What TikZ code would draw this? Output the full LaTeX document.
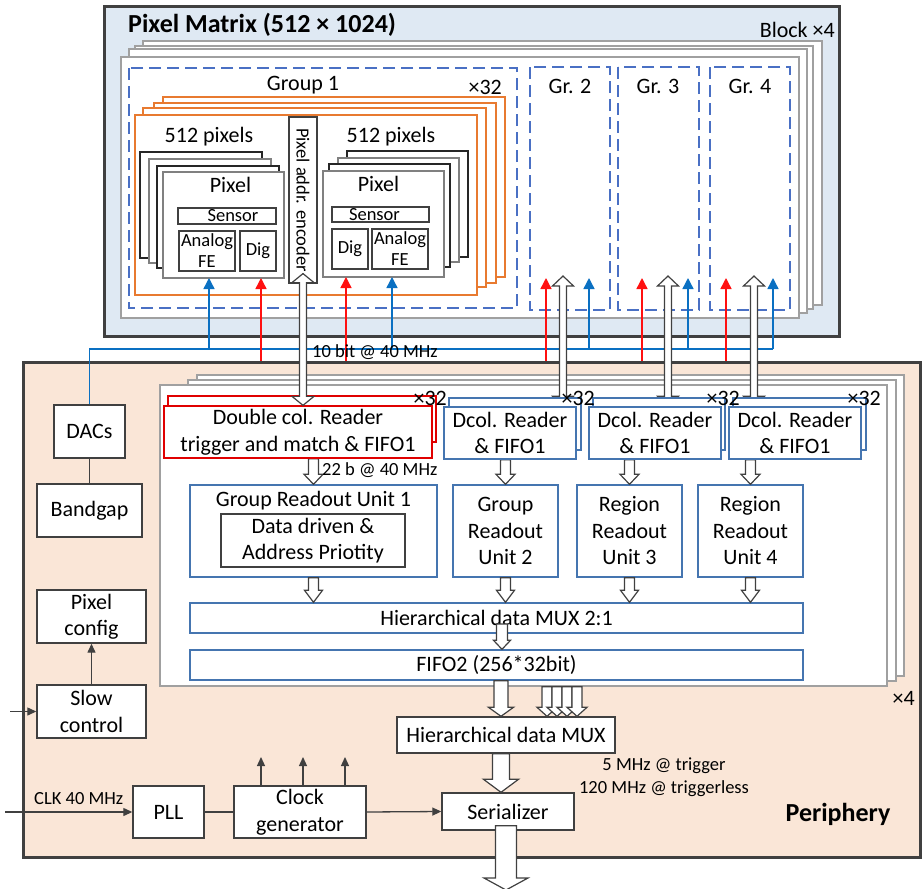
\documentclass[tikz,border=0pt]{standalone}
\usepackage{fontspec}
\setmainfont{Carlito}
\usetikzlibrary{arrows.meta,calc,fit}

\definecolor{matrixbg}{HTML}{DFE9F3}
\definecolor{periphbg}{HTML}{FAE6D7}
\definecolor{edge}{HTML}{404040}
\definecolor{stackgray}{HTML}{A0A0A0}
\definecolor{groupdash}{HTML}{4A70C4}
\definecolor{orangeline}{HTML}{E87A30}
\definecolor{unitblue}{HTML}{4575B0}
\definecolor{biasblue}{HTML}{0A70C2}
\definecolor{trigred}{HTML}{FF1010}
\definecolor{readred}{HTML}{E00000}

\newcommand\mainsize{\fontsize{22}{26.5}\selectfont}
\newcommand\smallsize{\fontsize{18.5}{21}\selectfont}
\newcommand\titlesize{\fontsize{26}{30}\selectfont\bfseries}

\pgfdeclarelayer{front}
\pgfsetlayers{main,front}

% a node given by its two corners: style, name, x1, y1, x2, y2, text
\newcommand\boxat[7]{%
  \pgfmathsetmacro\pbxX{(#3+#5)/2}\pgfmathsetmacro\pbxY{(#4+#6)/2}%
  \pgfmathsetmacro\pbxW{#5-#3}\pgfmathsetmacro\pbxH{#6-#4}%
  \node[#1, minimum width=\pbxW pt, minimum height=\pbxH pt] (#2) at (\pbxX,\pbxY) {#7};}

% wide hollow arrow along a vertical line: start, tip, shaft half-width, head half-width, head length
\newcommand\hollowto[5]{%
  \draw[hollow] let \p1=(#1), \p2=(#2), \n1={sign(\y2-\y1)} in
    ({\x2-#3pt},\y1) -- ({\x2-#3pt},{\y2-(\n1)*#5pt}) -- ({\x2-#4pt},{\y2-(\n1)*#5pt})
    -- (\x2,\y2)
    -- ({\x2+#4pt},{\y2-(\n1)*#5pt}) -- ({\x2+#3pt},{\y2-(\n1)*#5pt}) -- ({\x2+#3pt},\y1) -- cycle;}
% the same with a head at both ends
\newcommand\hollowboth[5]{%
  \draw[hollow] let \p1=(#1), \p2=(#2), \n1={sign(\y2-\y1)} in
    (\x2,\y1) -- ({\x2-#4pt},{\y1+(\n1)*#5pt}) -- ({\x2-#3pt},{\y1+(\n1)*#5pt})
    -- ({\x2-#3pt},{\y2-(\n1)*#5pt}) -- ({\x2-#4pt},{\y2-(\n1)*#5pt}) -- (\x2,\y2)
    -- ({\x2+#4pt},{\y2-(\n1)*#5pt}) -- ({\x2+#3pt},{\y2-(\n1)*#5pt})
    -- ({\x2+#3pt},{\y1+(\n1)*#5pt}) -- ({\x2+#4pt},{\y1+(\n1)*#5pt}) -- cycle;}

\begin{document}
\begin{tikzpicture}[x=1pt, y=-1pt,
  every node/.style={font=\mainsize, inner sep=0pt},
  outerframe/.style={inner sep=0pt, draw=edge, line width=3pt},
  box/.style={inner sep=0pt, draw=edge, line width=1.4pt, fill=white, align=center},
  unit/.style={box, draw=unitblue},
  unitback/.style={draw=unitblue, line width=1.4pt, fill=white},
  readbox/.style={box, draw=readred, line width=1.3pt},
  readback/.style={draw=readred, line width=1.3pt, fill=white},
  blocklayer/.style={draw=stackgray, line width=1.3pt, fill=white},
  orangelayer/.style={draw=orangeline, line width=1.4pt, fill=white},
  pixdark/.style={draw=black!85, line width=1.2pt, fill=white},
  pixgray/.style={draw=black!50, line width=1.2pt, fill=white},
  groupbox/.style={draw=groupdash, line width=1.5pt, dash pattern=on 12pt off 6pt},
  subpart/.style={box, line width=1.1pt, font=\smallsize},
  bias/.style={draw=biasblue, line width=1.4pt},
  trig/.style={draw=trigred, line width=1.4pt},
  tipc/.style={-{Triangle[width=11pt,length=11pt]}},
  wire/.style={draw=edge, line width=1.3pt},
  wiretip/.style={wire, -{Triangle[width=8pt,length=9pt]}},
  hollow/.style={draw=edge, line width=1.2pt, fill=white, line join=miter},
  txtsmall/.style={font=\smallsize},
  txttitle/.style={font=\titlesize},
]
\useasboundingbox (0,0) rectangle (922,889);

% ---------------- pixel matrix ----------------
\node[outerframe, fill=matrixbg, fit={(104,6) (839,336)}] (pm) {};
\node[txttitle, anchor=base west] at (128,32) {Pixel Matrix (512 × 1024)};
\node[anchor=base east] at (835,37) {Block ×4};
\draw[blocklayer] (143,41) rectangle (822,305);
\draw[blocklayer] (135,46) rectangle (813,309);
\draw[blocklayer] (129,49) rectangle (807,313);
\draw[blocklayer] (121,57) rectangle (799,318);

\draw[groupbox] (129,68) rectangle (517,308);
\draw[groupbox] (530,67) rectangle (610,310);
\draw[groupbox] (618,67) rectangle (699,310);
\draw[groupbox] (710,67) rectangle (790,310);
\node[anchor=base] at (303,90) {Group 1};
\node[anchor=base east] at (502,94) {×32};
\node[anchor=base] at (570,93) {Gr. 2};
\node[anchor=base] at (658,93) {Gr. 3};
\node[anchor=base] at (750,93) {Gr. 4};

% double columns of the group
\draw[orangelayer] (163,97) rectangle (505,277);
\draw[orangelayer] (154,103) rectangle (496,283);
\draw[orangelayer] (143,108) rectangle (486,287);
\draw[orangelayer] (135,115) rectangle (477,295);
\node[anchor=base] at (209,142) {512 pixels};
\node[anchor=base] at (391,142) {512 pixels};

% left pixel column
\draw[pixdark] (140,152) rectangle (262,258);
\draw[pixgray] (149,159) rectangle (271,263);
\draw[pixdark] (157,166) rectangle (279,268);
\boxat{box, draw=black!50, line width=1.2pt, label={[anchor=base, yshift=-21pt, xshift=7pt]north:Pixel}}{lpx}{163}{172}{284}{278}{}
\boxat{subpart, label={[font=\smallsize, xshift=6pt]center:Sensor}}{lsen}{178}{208}{276}{224}{}
\boxat{subpart}{lafe}{179}{231}{235}{271}{Analog\\FE}
\boxat{subpart}{ldig}{240}{231}{276}{271}{Dig}

% right pixel column
\draw[pixdark] (347,151) rectangle (468,257);
\draw[pixgray] (338,158) rectangle (459,262);
\draw[pixdark] (329,164) rectangle (450,267);
\boxat{box, draw=black!50, line width=1.2pt, label={[anchor=base, yshift=-21pt, xshift=-5pt]north:Pixel}}{rpx}{323}{171}{444}{277}{}
\boxat{subpart, label={[font=\smallsize, xshift=-6pt]center:Sensor}}{rsen}{332}{207}{429}{222}{}
\boxat{subpart}{rdig}{332}{229}{368}{269}{Dig}
\boxat{subpart}{rafe}{372}{229}{428}{269}{Analog\\FE}

% address encoder
\boxat{box, line width=1.2pt, label={[rotate=-90, font=\smallsize]center:Pixel addr. encoder}}{enc}{289}{117}{317}{283}{}

% ---------------- periphery ----------------
\node[outerframe, fill=periphbg, fit={(23,362) (920,857)}] (periph) {};
\draw[blocklayer] (197,375) rectangle (904,676);
\draw[blocklayer] (188,380) rectangle (896,681);
\node[blocklayer, inner sep=0pt, fit={(160,385) (887,686)}] (blk) {};
\node[anchor=base east] at (915,705) {×4};
\node[txttitle, anchor=base] at (838,821) {Periphery};

% bias and trigger lines into the matrix
\boxat{box}{dacs}{54}{405}{125}{458}{DACs}
\boxat{box}{bg}{37}{484}{142}{537}{Bandgap}
\draw[wire] (dacs.south) -- (bg.north);
\coordinate (busR) at (773,349);
\draw[bias] (dacs.north) |- (busR);
\coordinate (bA) at (209,278);
\coordinate (bB) at (392,277);
\coordinate (bC) at (589,278);
\coordinate (bD) at (688,278);
\coordinate (bE) at (773,278);
\foreach \c in {bA,bB,bC,bD,bE} {\draw[bias, tipc] (\c |- busR) -- (\c);}
\coordinate (rA) at (261,278);
\coordinate (rB) at (346,277);
\coordinate (rC) at (546,278);
\coordinate (rD) at (642,278);
\coordinate (rE) at (726,278);
\foreach \c in {rA,rB,rC,rD,rE} {\draw[trig, tipc] (\c |- periph.north) -- (\c);}
\node[txtsmall, anchor=base west] at (312,357) {10 bit @ 40 MHz};

% column readers
\begin{pgfonlayer}{front}
  \draw[readback] (168,396) rectangle (436,442);
  \boxat{readbox}{dcr}{164}{406}{432}{458}{Double col. Reader\\trigger and match \& FIFO1}
  \draw[unitback] (449,398) rectangle (581,450);
  \boxat{unit}{dA}{444}{407}{576}{459}{Dcol. Reader\\\& FIFO1}
  \draw[unitback] (593,398) rectangle (725,450);
  \boxat{unit}{dB}{589}{407}{721}{459}{Dcol. Reader\\\& FIFO1}
  \draw[unitback] (733,398) rectangle (866,450);
  \boxat{unit}{dC}{729}{407}{861}{459}{Dcol. Reader\\\& FIFO1}
  \hollowboth{$(enc.south)+(0,-10)$}{enc.south |- dcr.north}{3.5}{11}{9}
  \node[anchor=base east] at (447,405) {×32};
  \node[anchor=base east] at (595,405) {×32};
  \node[anchor=base east] at (740,405) {×32};
  \node[anchor=base east] at (881,405) {×32};
\end{pgfonlayer}

% readout links from groups 2-4
\coordinate (gA) at (563,276);
\coordinate (gB) at (668,276);
\coordinate (gC) at (754,276);
\hollowboth{gA |- dA.north}{gA}{3.5}{10.5}{10}
\hollowboth{gB |- dB.north}{gB}{3.5}{10.5}{10}
\hollowboth{gC |- dC.north}{gC}{3.5}{10.5}{10}

% readout units
\boxat{unit, label={[anchor=base, yshift=-22pt]north:Group Readout Unit 1}}{gru1}{190}{485}{437}{577}{}
\boxat{box, line width=1.3pt}{prio}{221}{514}{405}{567}{Data driven \&\\Address Priotity}
\boxat{unit}{gru2}{453}{485}{558}{577}{Group\\Readout\\Unit 2}
\boxat{unit}{rru3}{577}{485}{682}{577}{Region\\Readout\\Unit 3}
\boxat{unit}{rru4}{698}{485}{803}{577}{Region\\Readout\\Unit 4}
\boxat{unit}{mux}{190}{603}{803}{633}{Hierarchical data MUX 2:1}
\boxat{unit}{fifo}{190}{650}{803}{680}{FIFO2 (256*32bit)}

\hollowto{gru1.north |- dcr.south}{gru1.north}{5}{9.5}{10}
\node[txtsmall, anchor=base west] at (322,475) {22 b @ 40 MHz};
\hollowto{gru2.north |- dA.south}{gru2.north}{5}{9.5}{10}
\hollowto{rru3.north |- dB.south}{rru3.north}{5}{9.5}{10}
\hollowto{rru4.north |- dC.south}{rru4.north}{5}{9.5}{10}
\hollowto{gru1.south}{gru1.south |- mux.north}{5}{9}{12}
\hollowto{gru2.south}{gru2.south |- mux.north}{5}{9}{12}
\hollowto{rru3.south}{rru3.south |- mux.north}{5}{9}{12}
\hollowto{rru4.south}{rru4.south |- mux.north}{5}{9}{12}
\coordinate (muxtap) at (502,624);
\hollowto{muxtap}{muxtap |- fifo.north}{5.5}{8.5}{9}

% output chain
\boxat{box}{hmux}{397}{717}{615}{753}{Hierarchical data MUX}
\boxat{box}{ser}{442}{793}{574}{830}{Serializer}
\hollowto{$(hmux.north |- fifo.south)+(-5,0)$}{$(hmux.north)+(-5,0)$}{7}{12.5}{9}
\coordinate (lane1) at (547,700);
\coordinate (lane2) at (557,700);
\coordinate (lane3) at (567,700);
\coordinate (lane4) at (577,700);
\foreach \c in {lane1,lane2,lane3,lane4} {\hollowto{blk.south -| \c}{hmux.north -| \c}{5}{10}{9}}
\hollowto{$(hmux.south)+(-5,0)$}{$(ser.north)+(-7,0)$}{8.5}{17.5}{13}
\node[txtsmall, anchor=base] at (664,770) {5 MHz @ trigger};
\node[txtsmall, anchor=base] at (664,793) {120 MHz @ triggerless};
\coordinate (out) at (506,890);
\hollowto{$(ser.south)+(-2,-5)$}{out}{10.5}{22}{12}

% configuration and clocking
\boxat{box}{pc}{37}{590}{146}{643}{Pixel\\config}
\boxat{box}{sc}{37}{685}{146}{738}{Slow\\control}
\draw[wiretip] (sc.north) -- (pc.south);
\coordinate (scin) at (10,711.5);
\draw[wiretip] (scin) -- (sc.west);
\boxat{box}{pll}{133}{786}{204}{838}{PLL}
\boxat{box}{cg}{234}{786}{366}{838}{Clock\\generator}
\coordinate (clkin) at (5,812);
\draw[wiretip] (clkin) -- (pll.west);
\node[txtsmall, anchor=base west] at (34,804) {CLK 40 MHz};
\draw[wire] (pll.east) -- (cg.west);
\draw[wiretip] (cg.east) -- (ser.west);
\coordinate (ck1) at (261,757);
\coordinate (ck2) at (303,757);
\coordinate (ck3) at (345,757);
\foreach \c in {ck1,ck2,ck3} {\draw[wiretip] (\c |- cg.north) -- (\c);}
\end{tikzpicture}
\end{document}
